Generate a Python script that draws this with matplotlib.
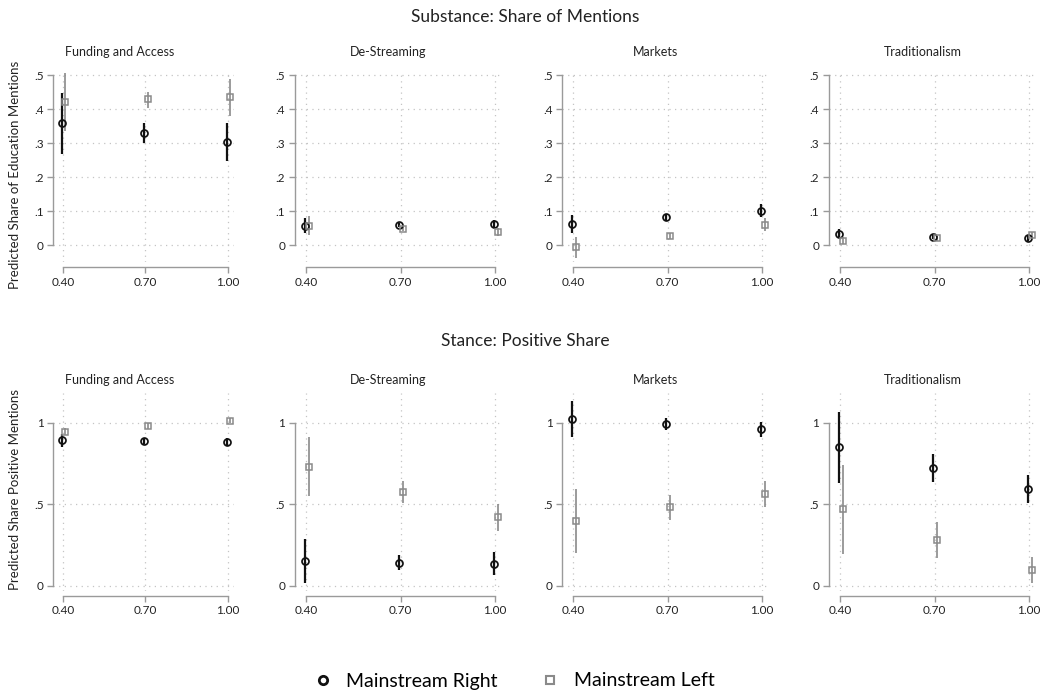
import matplotlib
matplotlib.use("Agg")
import matplotlib.pyplot as plt

plt.rcParams['font.family'] = ['Lato', 'DejaVu Sans']

# ---------------- data ----------------
x_levels = [0.40, 0.70, 1.00]
x_ticklabels = ["0.40", "0.70", "1.00"]
topics = ["Funding and Access", "De-Streaming", "Markets", "Traditionalism"]
series_names = ["Mainstream Right", "Mainstream Left"]

# Substance: Share of Mentions  (estimate, lower CI, upper CI)
sub_right_est = [[0.358, 0.330, 0.303], [0.057, 0.060, 0.061], [0.063, 0.081, 0.101], [0.031, 0.025, 0.020]]
sub_right_lo  = [[0.268, 0.301, 0.248], [0.034, 0.052, 0.049], [0.036, 0.071, 0.081], [0.020, 0.019, 0.013]]
sub_right_hi  = [[0.446, 0.358, 0.358], [0.078, 0.066, 0.074], [0.088, 0.091, 0.121], [0.046, 0.031, 0.027]]
sub_left_est  = [[0.421, 0.428, 0.434], [0.057, 0.047, 0.038], [-0.007, 0.026, 0.060], [0.013, 0.020, 0.029]]
sub_left_lo   = [[0.336, 0.402, 0.379], [0.029, 0.040, 0.027], [-0.039, 0.017, 0.041], [0.003, 0.013, 0.020]]
sub_left_hi   = [[0.505, 0.451, 0.487], [0.085, 0.054, 0.049], [0.025, 0.035, 0.078], [0.023, 0.027, 0.039]]

# Stance: Positive Share
sta_right_est = [[0.892, 0.885, 0.881], [0.149, 0.141, 0.133], [1.020, 0.992, 0.959], [0.849, 0.720, 0.593]]
sta_right_lo  = [[0.849, 0.867, 0.859], [0.018, 0.096, 0.065], [0.910, 0.955, 0.910], [0.632, 0.638, 0.505]]
sta_right_hi  = [[0.930, 0.904, 0.904], [0.284, 0.188, 0.204], [1.135, 1.027, 1.006], [1.067, 0.806, 0.679]]
sta_left_est  = [[0.945, 0.980, 1.010], [0.730, 0.575, 0.419], [0.397, 0.481, 0.562], [0.468, 0.280, 0.096]]
sta_left_lo   = [[0.924, 0.963, 0.996], [0.550, 0.505, 0.337], [0.202, 0.403, 0.485], [0.194, 0.168, 0.018]]
sta_left_hi   = [[0.965, 0.996, 1.027], [0.910, 0.644, 0.501], [0.591, 0.556, 0.642], [0.740, 0.393, 0.174]]

top_yticks = [0, 0.1, 0.2, 0.3, 0.4, 0.5]
top_yticklabels = ["0", ".1", ".2", ".3", ".4", ".5"]
bot_yticks = [0, 0.5, 1]
bot_yticklabels = ["0", ".5", "1"]

right_shift = -0.004
left_shift = 0.008

# ---------------- layout ----------------
W, H = 1050, 694
fig = plt.figure(figsize=(W / 100, H / 100), dpi=100)

def rect(x0, y0, x1, y1):
    return [x0 / W, 1 - y1 / H, (x1 - x0) / W, (y1 - y0) / H]

col_x = [(53.4, 234.0), (295.0, 502.0), (562.3, 769.0), (829.0, 1036.0)]
row_y = [(71.6, 262.0), (393.4, 590.6)]
row_ylim = [(-0.05, 0.51), (-0.03, 1.18)]

BLACK = "#111111"
GREY = "#8a8a8a"
AXC = "#9a9a9a"
GRIDC = "#c4c4c4"

rows = [
    (sub_right_est, sub_right_lo, sub_right_hi, sub_left_est, sub_left_lo, sub_left_hi,
     top_yticks, top_yticklabels),
    (sta_right_est, sta_right_lo, sta_right_hi, sta_left_est, sta_left_lo, sta_left_hi,
     bot_yticks, bot_yticklabels),
]

for r, (re_, rl, rh, le, ll, lh, yt, ytl) in enumerate(rows):
    for c in range(4):
        x0, x1 = col_x[c]
        y0, y1 = row_y[r]
        ax = fig.add_axes(rect(x0, y0, x1, y1))
        ax.set_xlim(0.365, 1.022)
        ax.set_ylim(*row_ylim[r])
        for s in ["top", "right"]:
            ax.spines[s].set_visible(False)
        ax.spines["left"].set_bounds(yt[0], yt[-1])
        ax.spines["bottom"].set_bounds(x_levels[0], x_levels[-1])
        ax.spines["bottom"].set_position(("outward", 3.6))
        for s in ["left", "bottom"]:
            ax.spines[s].set_color(AXC)
            ax.spines[s].set_linewidth(1.0)
        ax.set_xticks(x_levels)
        ax.set_xticklabels(x_ticklabels)
        ax.set_yticks(yt)
        ax.set_yticklabels(ytl)
        ax.tick_params(axis="both", colors=AXC, labelcolor="#222222", labelsize=8.5,
                       length=4, width=1.0, pad=3)
        ax.grid(True, linestyle=(0, (1, 3.5)), color=GRIDC, linewidth=0.9)
        ax.set_axisbelow(True)

        xr = [x + right_shift for x in x_levels]
        xl = [x + left_shift for x in x_levels]
        ax.vlines(xr, rl[c], rh[c], color=BLACK, linewidth=1.6, zorder=3)
        ax.plot(xr, re_[c], linestyle="none", marker="o", markersize=5.0,
                markerfacecolor="none", markeredgecolor=BLACK, markeredgewidth=1.25, zorder=4)
        ax.vlines(xl, ll[c], lh[c], color=GREY, linewidth=1.2, zorder=3)
        ax.plot(xl, le[c], linestyle="none", marker="s", markersize=5.0,
                markerfacecolor="none", markeredgecolor=GREY, markeredgewidth=1.1, zorder=4)

        # panel title centred over graph incl. tick labels
        left_px = 5 if c == 0 else x0 - 20
        cx = (left_px + x1) / 2
        ty = 52 if r == 0 else 380
        fig.text(cx / W, 1 - ty / H, topics[c], ha="center", va="center",
                 fontsize=9, color="#222222")

fig.text(525 / W, 1 - 17 / H, "Substance: Share of Mentions", ha="center", va="center",
         fontsize=12.5, color="#222222")
fig.text(525 / W, 1 - 341 / H, "Stance: Positive Share", ha="center", va="center",
         fontsize=12.5, color="#222222")
fig.text(15 / W, 1 - 175 / H, "Predicted Share of Education Mentions", rotation=90,
         ha="center", va="center", fontsize=9.5, color="#222222")
fig.text(15 / W, 1 - 490 / H, "Predicted Share Positive Mentions", rotation=90,
         ha="center", va="center", fontsize=9.5, color="#222222")

# legend
from matplotlib.lines import Line2D
handles = [
    Line2D([], [], linestyle="none", marker="o", markersize=6.0, markerfacecolor="none",
           markeredgecolor=BLACK, markeredgewidth=2.0),
    Line2D([], [], linestyle="none", marker="s", markersize=6.0, markerfacecolor="none",
           markeredgecolor=GREY, markeredgewidth=1.5),
]
fig.legend(handles, series_names, loc="center", bbox_to_anchor=(514 / W, 1 - 681 / H),
           ncol=2, frameon=False, fontsize=14, handletextpad=0.7, columnspacing=2.2,
           handlelength=1.0)

fig.savefig("out.png", dpi=100)
